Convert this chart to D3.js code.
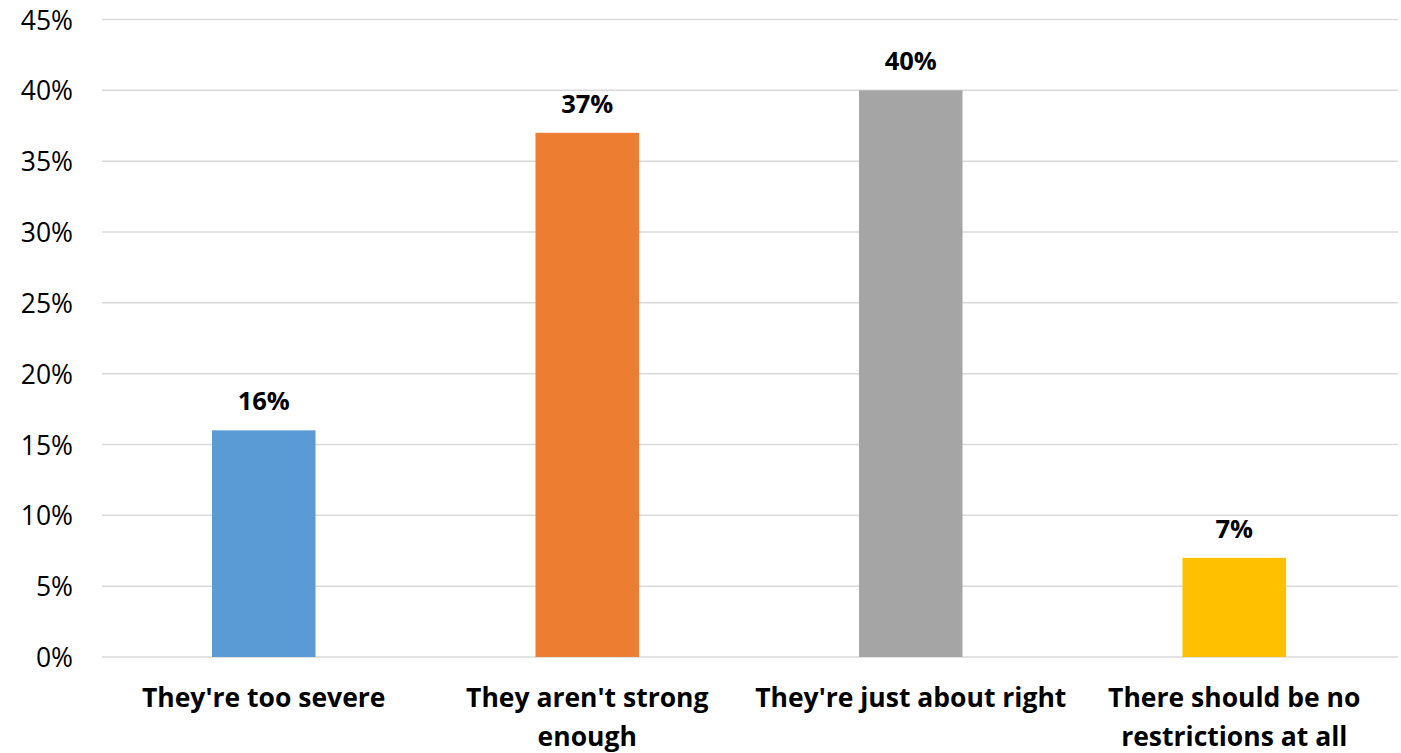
<!DOCTYPE html>
<html><head><meta charset="utf-8">
<script src="https://cdn.jsdelivr.net/npm/d3@7"></script>
<style>html,body{margin:0;padding:0;background:#fff;}svg{display:block;}</style>
</head><body>
<svg id="chart" width="1401" height="753"></svg>
<script>
const categories = ["They're too severe", "They aren't strong enough", "They're just about right", "There should be no restrictions at all"];
const categoryLines = [["They're too severe"], ["They aren't strong", "enough"], ["They're just about right"], ["There should be no", "restrictions at all"]];
const values = [0.16, 0.37, 0.40, 0.07];
const colors = ["#5B9BD5", "#ED7D31", "#A5A5A5", "#FFC000"];
const yTicks = [0, 0.05, 0.10, 0.15, 0.20, 0.25, 0.30, 0.35, 0.40, 0.45];

const svg = d3.select("#chart");
const font = "'Open Sans', Lato, sans-serif";
const m = {left: 102, right: 5, top: 19.5, bottom: 96};
const W = 1401, H = 753;
const x = d3.scaleBand().domain(categories).range([m.left, W - m.right]).paddingInner(0.68).paddingOuter(0.34);
const y = d3.scaleLinear().domain([0, 0.45]).range([H - m.bottom, m.top]);

// gridlines
svg.append("g").selectAll("line").data(yTicks).join("line")
  .attr("x1", m.left).attr("x2", W - 3)
  .attr("y1", d => y(d)).attr("y2", d => y(d))
  .attr("stroke", "#D9D9D9").attr("stroke-width", 1.5);

// y axis labels
const yAxis = d3.axisLeft(y).tickValues(yTicks).tickFormat(d3.format(".0%")).tickSize(0).tickPadding(0);
const ga = svg.append("g").attr("transform", `translate(73,0)`).call(yAxis);
ga.select(".domain").remove();
ga.selectAll("text").attr("font-family", font).attr("font-size", 26.5).attr("fill", "#000").attr("dy", "0.36em");

// bars
svg.append("g").selectAll("rect").data(values).join("rect")
  .attr("x", (d, i) => x(categories[i]))
  .attr("width", x.bandwidth())
  .attr("y", d => y(d))
  .attr("height", d => y(0) - y(d))
  .attr("fill", (d, i) => colors[i]);

// data labels
svg.append("g").selectAll("text").data(values).join("text")
  .attr("x", (d, i) => x(categories[i]) + x.bandwidth() / 2)
  .attr("y", d => y(d) - 20)
  .attr("text-anchor", "middle")
  .attr("font-family", font).attr("font-weight", "bold").attr("font-size", 25.5).attr("fill", "#000")
  .text(d => d3.format(".0%")(d));

// category labels
const cg = svg.append("g");
categories.forEach((c, i) => {
  const t = cg.append("text")
    .attr("x", x(c) + x.bandwidth() / 2)
    .attr("y", 707)
    .attr("text-anchor", "middle")
    .attr("font-family", font).attr("font-weight", "bold").attr("font-size", 26.5).attr("fill", "#000");
  categoryLines[i].forEach((ln, j) => {
    t.append("tspan").attr("x", x(c) + x.bandwidth() / 2).attr("y", 707 + j * 38.5).text(ln);
  });
});
</script>
</body></html>
